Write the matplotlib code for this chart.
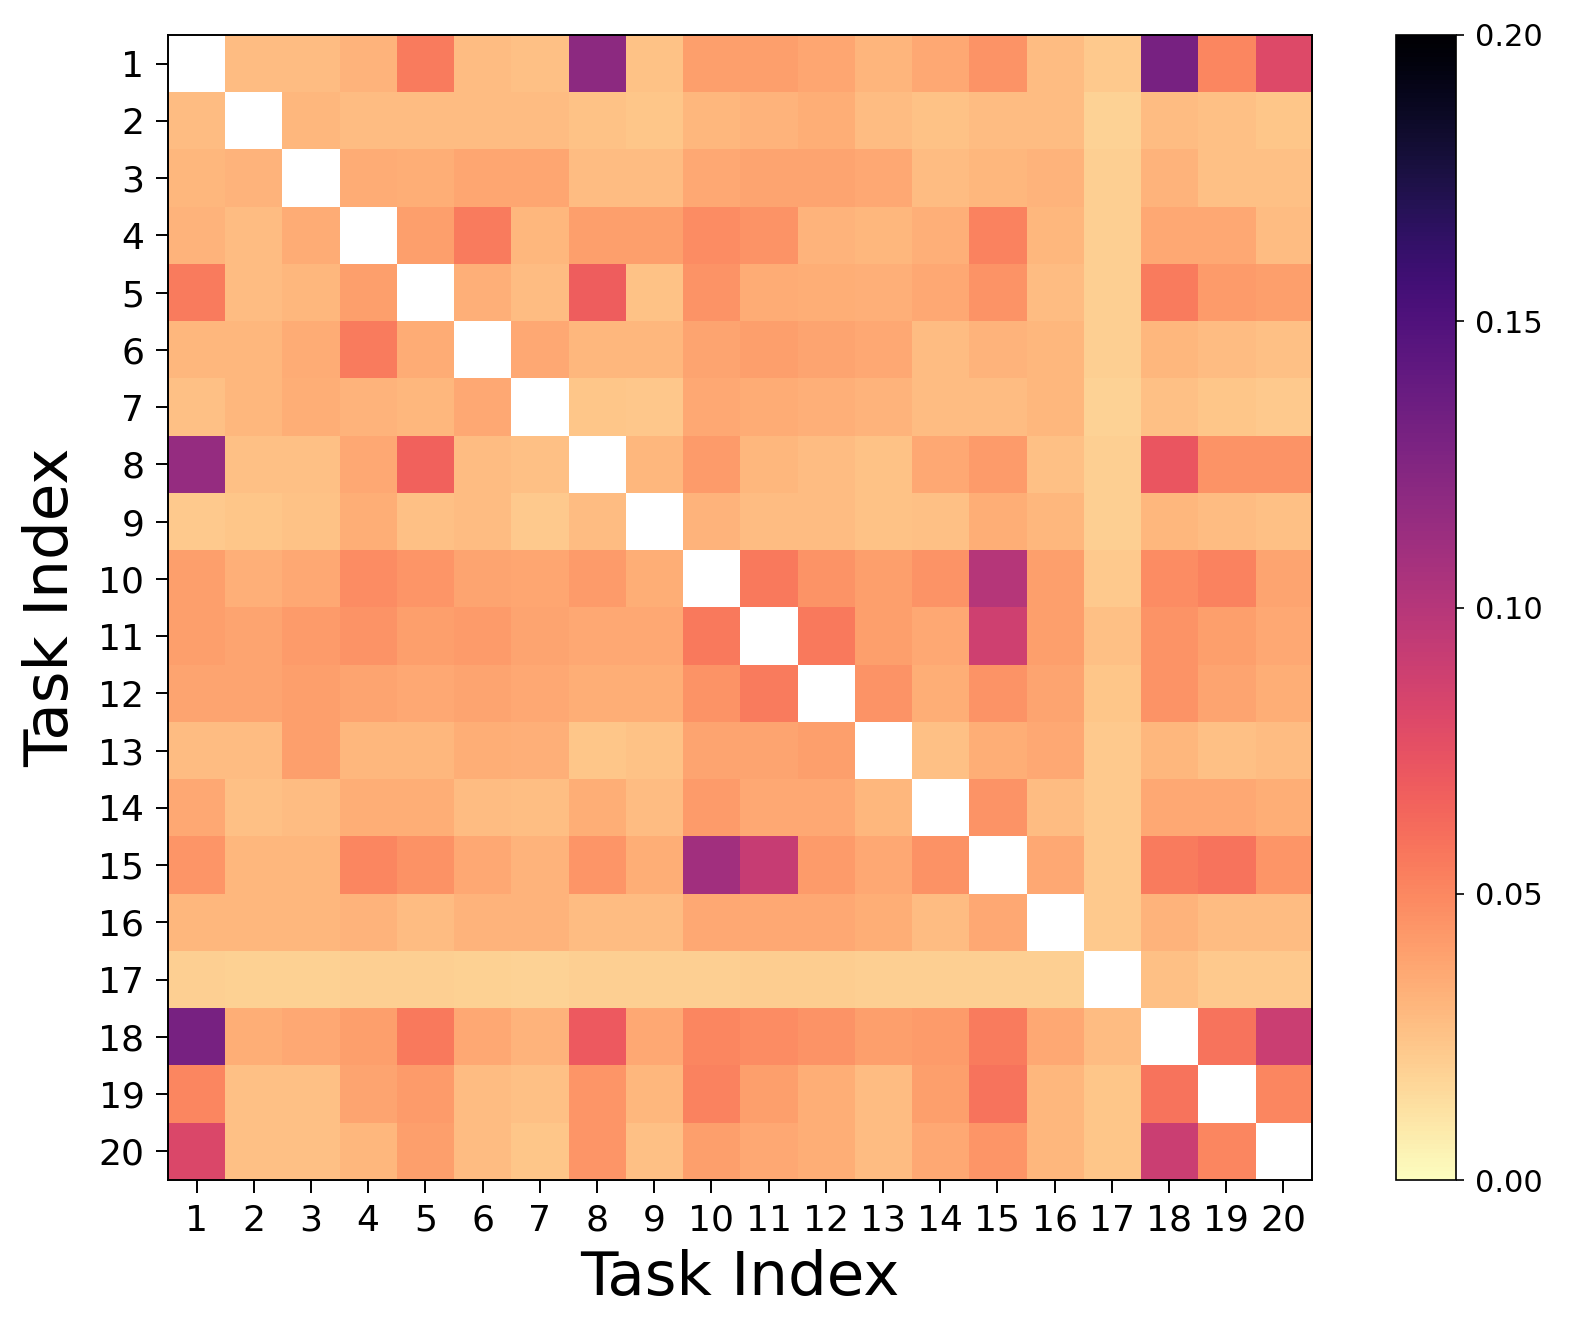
import numpy as np
import matplotlib
matplotlib.use("Agg")
import matplotlib.pyplot as plt

tasks = [str(i) for i in range(1, 21)]
N = None
row_01 = [N, .028, .028, .032, .055, .028, .026, .120, .025, .040, .040, .037, .031, .036, .045, .028, .022, .130, .050, .080]
row_02 = [.028, N, .030, .028, .028, .028, .028, .025, .024, .030, .032, .034, .028, .025, .028, .028, .018, .028, .026, .024]
row_03 = [.030, .032, N, .035, .034, .037, .037, .028, .028, .036, .038, .038, .036, .028, .030, .032, .020, .032, .026, .026]
row_04 = [.032, .028, .035, N, .040, .055, .030, .040, .040, .048, .045, .032, .030, .033, .052, .030, .020, .036, .036, .028]
row_05 = [.055, .028, .030, .040, N, .033, .028, .068, .025, .045, .035, .034, .033, .036, .045, .028, .020, .055, .042, .040]
row_06 = [.030, .030, .035, .055, .035, N, .036, .030, .030, .038, .040, .038, .036, .028, .032, .030, .020, .030, .028, .026]
row_07 = [.026, .030, .034, .032, .030, .036, N, .024, .023, .036, .035, .033, .032, .028, .028, .030, .018, .026, .024, .022]
row_08 = [.115, .026, .026, .036, .066, .028, .026, N, .030, .042, .030, .028, .025, .036, .042, .026, .020, .072, .045, .045]
row_09 = [.022, .024, .025, .034, .026, .028, .022, .028, N, .032, .028, .028, .025, .026, .034, .030, .020, .030, .028, .026]
row_10 = [.040, .033, .036, .048, .044, .038, .037, .042, .034, N, .056, .045, .040, .045, .100, .040, .022, .048, .052, .038]
row_11 = [.040, .038, .042, .045, .040, .042, .038, .036, .036, .056, N, .056, .040, .036, .088, .040, .026, .045, .040, .036]
row_12 = [.038, .038, .040, .038, .036, .038, .036, .034, .034, .045, .055, N, .045, .034, .045, .038, .024, .045, .038, .034]
row_13 = [.028, .028, .040, .030, .030, .034, .033, .024, .025, .038, .038, .040, N, .026, .034, .036, .022, .030, .026, .028]
row_14 = [.036, .026, .028, .034, .034, .028, .027, .034, .028, .042, .036, .036, .030, N, .045, .028, .022, .036, .036, .034]
row_15 = [.044, .030, .030, .050, .046, .036, .032, .044, .034, .110, .092, .042, .036, .046, N, .036, .022, .055, .058, .044]
row_16 = [.030, .030, .030, .032, .028, .032, .032, .028, .028, .036, .036, .036, .034, .028, .036, N, .022, .032, .028, .028]
row_17 = [.020, .019, .019, .020, .020, .019, .018, .020, .020, .020, .021, .021, .020, .020, .020, .020, N, .026, .022, .022]
row_18 = [.130, .034, .036, .040, .056, .036, .032, .070, .036, .050, .048, .045, .040, .042, .055, .036, .028, N, .058, .090]
row_19 = [.050, .026, .026, .038, .042, .028, .026, .044, .030, .052, .040, .034, .028, .040, .058, .030, .024, .058, N, .050]
row_20 = [.082, .026, .026, .030, .040, .028, .024, .044, .026, .040, .036, .034, .028, .036, .044, .030, .024, .090, .050, N]

rows = [row_01, row_02, row_03, row_04, row_05, row_06, row_07, row_08, row_09, row_10,
        row_11, row_12, row_13, row_14, row_15, row_16, row_17, row_18, row_19, row_20]
M = np.array([[np.nan if v is None else v for v in r] for r in rows], dtype=float)

fig = plt.figure(figsize=(15.78, 13.43), dpi=100)
ax = fig.add_axes([168/1578, 1 - 1180/1343, 1144/1578, 1145/1343])
cax = fig.add_axes([1396/1578, 1 - 1180/1343, 60/1578, 1145/1343])

cmap = plt.get_cmap("magma_r").copy()
cmap.set_bad("white")
im = ax.imshow(M, cmap=cmap, vmin=0, vmax=0.2, aspect="auto", interpolation="nearest")

ax.set_xticks(range(20))
ax.set_xticklabels(tasks)
ax.set_yticks(range(20))
ax.set_yticklabels(tasks)
ax.tick_params(labelsize=26, length=9, width=1.4, pad=8)
ax.set_xlabel("Task Index", fontsize=44, labelpad=8)
ax.set_ylabel("Task Index", fontsize=44, labelpad=12)
for s in ax.spines.values():
    s.set_linewidth(1.4)

cb = fig.colorbar(im, cax=cax)
cb.set_ticks([0, 0.05, 0.10, 0.15, 0.20])
cb.set_ticklabels(["0.00", "0.05", "0.10", "0.15", "0.20"])
cb.ax.tick_params(labelsize=22, length=6, width=1.2, pad=8)
cb.outline.set_linewidth(1.2)

fig.savefig("out.png", dpi=100)
